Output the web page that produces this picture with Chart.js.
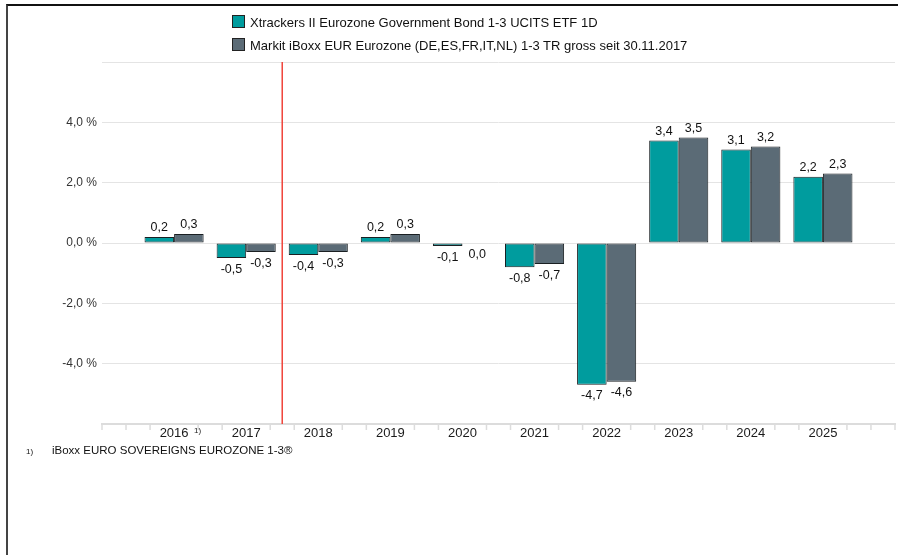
<!DOCTYPE html>
<html>
<head>
<meta charset="utf-8">
<script src="https://cdn.jsdelivr.net/npm/chart.js@4.4.1/dist/chart.umd.min.js"></script>
<style>
  body { margin: 0; background: #fff; font-family: "Liberation Sans", Arial, sans-serif; color: #222; }
  #wrap { position: relative; width: 898px; height: 555px; overflow: hidden; }
  #frame { position: absolute; left: 6px; top: 4px; right: -4px; bottom: -4px; border-top: 2px solid #111; border-left: 2px solid #444; }
  #chart { position: absolute; left: 0; top: 0; }
  #legend { position: absolute; left: 232px; top: 11px; font-size: 13px; line-height: 23px; color: #111; }
  #legend .box { display: inline-block; width: 11px; height: 11px; border: 1px solid #222; vertical-align: -1px; margin-right: 5px; }
  #note { position: absolute; left: 26px; top: 444px; font-size: 11.5px; color: #111; }
  #note .mark { font-size: 8px; display: inline-block; width: 26px; }
</style>
</head>
<body>
<div id="wrap">
  <div id="frame"></div>
  <canvas id="chart" width="898" height="555"></canvas>
  <div id="legend"></div>
  <div id="note"><span class="mark">1)</span>iBoxx EURO SOVEREIGNS EUROZONE 1-3®</div>
</div>
<script>
// chart values
const years = [2016, 2017, 2018, 2019, 2020, 2021, 2022, 2023, 2024, 2025]
const fundValues = [0.2, -0.5, -0.4, 0.2, -0.1, -0.8, -4.7, 3.4, 3.1, 2.2]
const indexValues = [0.3, -0.3, -0.3, 0.3, 0.0, -0.7, -4.6, 3.5, 3.2, 2.3]
const seriesNames = [
  "Xtrackers II Eurozone Government Bond 1-3 UCITS ETF 1D",
  "Markit iBoxx EUR Eurozone (DE,ES,FR,IT,NL) 1-3 TR gross seit 30.11.2017",
]
const yTicks = [-6, -4, -2, 0, 2, 4, 6]
const indexSwitchAt = 2017.5   // red line: benchmark change
const footnoteYear = 2016

const colors = ["#009c9e", "#5b6b76"]
const fmt = v => v.toFixed(1).replace(".", ",")

// html legend
const legendEl = document.getElementById("legend")
seriesNames.forEach((name, i) => {
  const row = document.createElement("div")
  row.innerHTML = '<span class="box" style="background:' + colors[i] + '"></span>' + name
  legendEl.appendChild(row)
})

const barLabels = {
  id: "barLabels",
  afterDatasetsDraw(chart) {
    const ctx = chart.ctx
    ctx.save()
    ctx.font = "12.5px 'Liberation Sans', Arial, sans-serif"
    ctx.fillStyle = "#111"
    ctx.textAlign = "center"
    chart.data.datasets.forEach((ds, di) => {
      chart.getDatasetMeta(di).data.forEach((bar, i) => {
        const v = ds.data[i]
        if (v > 0) {
          ctx.textBaseline = "bottom"
          ctx.fillText(fmt(v), bar.x, bar.y - 3)
        } else {
          ctx.textBaseline = "top"
          ctx.fillText(fmt(v), bar.x, Math.max(bar.y, bar.base) + 5)
        }
      })
    })
    ctx.restore()
  },
}

const extras = {
  id: "extras",
  afterDraw(chart) {
    const ctx = chart.ctx
    const x = chart.scales.x
    const area = chart.chartArea
    ctx.save()
    // minor tick marks, three per year
    ctx.strokeStyle = "#dcdcdc"
    ctx.lineWidth = 1.5
    for (let k = 0; k <= (x.max - x.min) * 3; k++) {
      if (k % 3 === 0 && k > 0 && k < (x.max - x.min) * 3) continue
      const px = x.getPixelForValue(x.min + k / 3)
      ctx.beginPath()
      ctx.moveTo(px, area.bottom)
      ctx.lineTo(px, area.bottom + 6)
      ctx.stroke()
    }
    // red vertical line
    const px = x.getPixelForValue(indexSwitchAt)
    ctx.strokeStyle = "#f0433a"
    ctx.lineWidth = 1.5
    ctx.beginPath()
    ctx.moveTo(px, area.top)
    ctx.lineTo(px, area.bottom)
    ctx.stroke()
    // footnote mark next to first year
    ctx.font = "8px 'Liberation Sans', Arial, sans-serif"
    ctx.fillStyle = "#222"
    ctx.textBaseline = "top"
    ctx.fillText("1)", x.getPixelForValue(footnoteYear) + 20, area.bottom + 3)
    ctx.restore()
  },
}

new Chart(document.getElementById("chart"), {
  type: "bar",
  data: {
    labels: years,
    datasets: [
      {
        label: seriesNames[0],
        data: fundValues,
        backgroundColor: colors[0],
        borderColor: "#1a1f22",
        borderWidth: 1,
        borderSkipped: false,
      },
      {
        label: seriesNames[1],
        data: indexValues,
        backgroundColor: colors[1],
        borderColor: "#1a1f22",
        borderWidth: 1,
        borderSkipped: false,
      },
    ],
  },
  options: {
    responsive: false,
    animation: false,
    categoryPercentage: 0.82,
    barPercentage: 1.0,
    layout: { padding: { top: 62, right: 3, left: 0, bottom: 0 } },
    plugins: {
      legend: { display: false },
      tooltip: { enabled: false },
    },
    scales: {
      x: {
        type: "linear",
        offset: false,
        min: years[0] - 1,
        max: years[years.length - 1] + 1,
        afterFit: s => { s.height = 131; s.paddingLeft = 0; s.paddingRight = 0 },
        border: { color: "#dcdcdc", width: 2 },
        grid: { offset: false, drawOnChartArea: false, drawTicks: false },
        ticks: {
          stepSize: 1,
          autoSkip: false,
          maxRotation: 0,
          padding: 2,
          color: "#1a1a1a",
          font: { family: "'Liberation Sans', Arial, sans-serif", size: 13 },
          callback: v => (years.includes(v) ? String(v) : ""),
        },
      },
      y: {
        min: yTicks[0],
        max: yTicks[yTicks.length - 1],
        afterFit: s => { s.width = 102 },
        afterBuildTicks: s => { s.ticks = yTicks.map(v => ({ value: v })) },
        border: { display: false },
        grid: { color: "#e4e4e4", lineWidth: 1, drawTicks: false },
        ticks: {
          padding: 5,
          color: "#333",
          font: { family: "'Liberation Sans', Arial, sans-serif", size: 12 },
          callback: v => (v === yTicks[0] || v === yTicks[yTicks.length - 1] ? "" : fmt(v) + " %"),
        },
      },
    },
  },
  plugins: [barLabels, extras],
})
</script>
</body>
</html>
